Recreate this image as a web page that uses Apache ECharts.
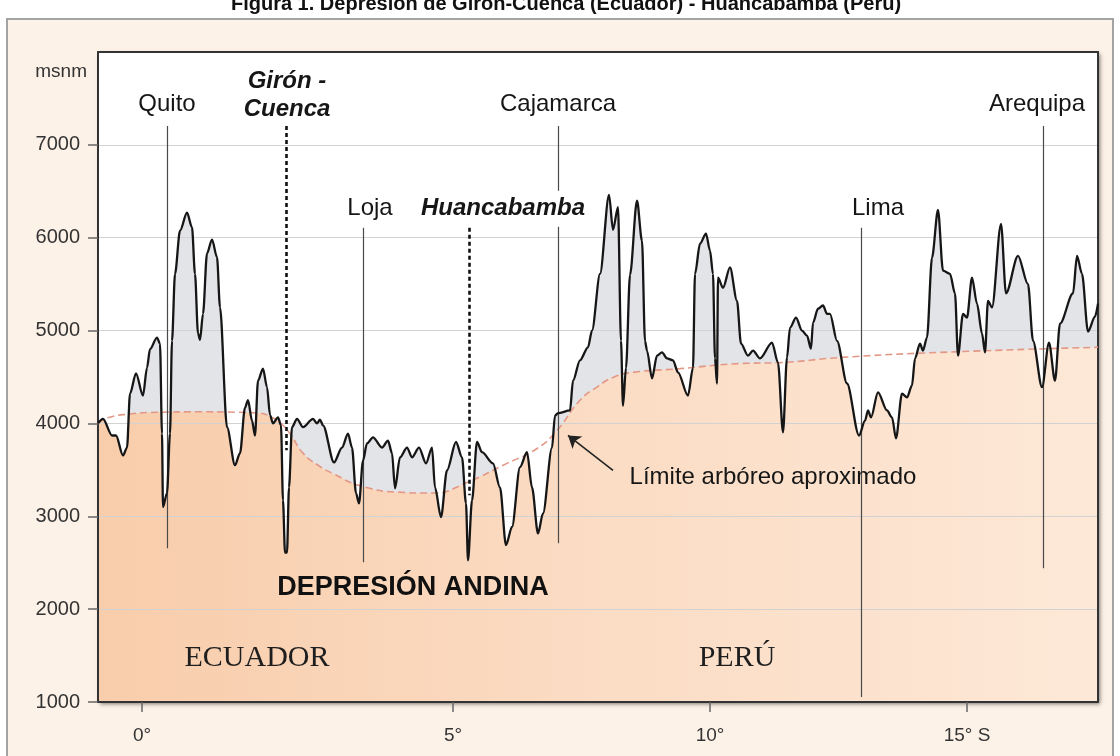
<!DOCTYPE html>
<html>
<head>
<meta charset="utf-8">
<script src="https://cdn.jsdelivr.net/npm/echarts@6/dist/echarts.min.js"></script>
<style>
  html, body { margin: 0; padding: 0; background: #fff; }
  #chart { width: 1120px; height: 756px; }
</style>
</head>
<body>
<div id="chart"></div>
<script>
// distancia a lo largo del perfil (0-1000) / altitud en msnm
const perfil = [
  [0,4000],[5,4050],[14,3870],[18,3870],[25,3655],[29,3740],[32,4320],[38,4540],[45,4300],[49,4600],
  [52,4800],[59,4925],[62,4860],[64,3890],[65,3100],[69,3250],[72,3890],[74,4890],[77,5610],[82,6075],
  [89,6270],[94,6110],[97,5610],[100,4970],[102,4900],[105,5180],[109,5830],[114,5980],[119,5790],[122,5250],
  [129,3960],[137,3550],[142,3680],[147,4170],[150,4250],[154,4030],[157,3870],[160,4460],[165,4590],[169,4390],
  [172,4090],[175,4000],[180,4065],[183,3980],[185,3170],[187,2610],[189,2610],[191,3310],[194,3960],[199,4050],
  [205,3960],[215,4050],[219,4000],[222,4040],[225,3980],[236,3580],[244,3740],[250,3890],[254,3740],[258,3250],
  [261,3140],[265,3600],[269,3785],[275,3850],[284,3740],[290,3815],[294,3680],[297,3300],[302,3635],[309,3740],
  [314,3635],[321,3740],[328,3570],[334,3740],[337,3310],[343,2990],[349,3495],[358,3800],[364,3635],[368,3140],
  [370,2525],[374,3170],[379,3800],[384,3690],[395,3570],[402,3310],[408,2690],[414,2885],[422,3530],[429,3690],
  [434,3310],[440,2815],[445,3030],[454,3740],[457,4085],[460,4110],[472,4140],[475,4460],[482,4680],[490,4820],
  [494,5000],[502,5610],[511,6460],[515,6085],[520,6330],[523,4890],[525,4190],[528,4600],[532,5600],[539,6400],
  [544,5965],[547,4890],[549,4785],[554,4485],[559,4730],[564,4765],[569,4700],[575,4680],[580,4550],[590,4300],
  [595,4600],[597,5610],[602,5935],[608,6045],[612,5860],[615,5610],[617,4700],[619,4430],[620,5570],[625,5460],
  [632,5680],[639,5320],[643,4860],[650,4730],[655,4785],[662,4700],[674,4870],[680,4655],[685,3905],[689,4710],
  [692,5030],[698,5140],[704,5000],[709,4945],[713,4805],[715,5085],[720,5235],[725,5270],[729,5180],[732,5180],
  [739,4890],[749,4430],[761,3870],[767,4030],[770,4140],[773,4065],[780,4335],[789,4140],[794,4065],[798,3840],
  [804,4320],[809,4280],[814,4410],[817,4700],[822,4860],[825,4785],[829,4925],[834,5785],[840,6300],[845,5645],
  [852,5610],[857,5400],[860,4730],[865,5180],[869,5140],[874,5570],[879,5290],[884,4970],[887,4765],[890,5320],
  [894,5250],[903,6150],[908,5400],[920,5805],[930,5500],[935,4890],[944,4390],[951,4870],[957,4460],[962,5075],
  [975,5400],[979,5805],[984,5610],[990,4990],[997,5150],[1000,5290]
];

// límite arbóreo aproximado
const limiteArboreo = [
  [0,4000],[10,4060],[30,4100],[60,4120],[100,4125],[140,4120],[162,4110],[175,4060],[182,4010],[192,3890],
  [205,3680],[220,3550],[235,3460],[262,3330],[300,3260],[335,3250],[370,3370],[409,3570],[439,3730],[459,3925],
  [482,4250],[500,4400],[515,4495],[535,4550],[582,4590],[642,4645],[682,4655],[742,4710],[842,4765],[1000,4820]
];

const latTicks = [44, 355, 612, 869];
const latLabels = ['0°', '5°', '10°', '15° S'];
const altTicks = [1000, 2000, 3000, 4000, 5000, 6000, 7000];

const ciudades = ['Quito', 'Girón -\nCuenca', 'Loja', 'Huancabamba', 'Cajamarca', 'Lima', 'Arequipa'];
const ciudadDist = [69, 188, 265, 371, 460, 763, 945];

const FONT = 'Liberation Sans';
const INK = '#161616';

// trazos verticales de cada ciudad (inicio arriba, fin abajo)
const lineaTop = [7204, 7204, 6108, 6108, 7204, 6108, 7204];
const lineaBottom = [2656, 3710, 2505, 3226, 2710, 1054, 2441];
const punteada = [false, true, false, true, false, false, false];
const labelPos = [[69, 7440], [189, 7537], [272, 6311], [405, 6311], [460, 7440], [780, 6311], [939, 7440]];

const cityLines = ciudades.map((c, i) => [
  { coord: [ciudadDist[i], lineaTop[i]],
    lineStyle: punteada[i]
      ? { color: '#111', width: 2.6, type: [4, 3] }
      : { color: '#4a4a4a', width: 1.2, type: 'solid' } },
  { coord: [ciudadDist[i], lineaBottom[i]] }
]);

const arrow = [
  { coord: [515, 3495], symbol: 'none',
    lineStyle: { color: '#222', width: 1.6, type: 'solid' } },
  { coord: [470, 3871], symbol: 'arrow' }
];

const rotulos = ciudades.map((c, i) => {
  const bold = punteada[i] || c === 'Huancabamba';
  return {
    name: c,
    value: labelPos[i],
    label: {
      color: INK,
      fontSize: 24,
      fontWeight: bold ? 'bold' : 'normal',
      fontStyle: bold ? 'italic' : 'normal',
      lineHeight: 28,
      backgroundColor: c === 'Huancabamba' ? '#fff' : 'transparent',
      padding: c === 'Huancabamba' ? [4, 2, 4, 2] : 0
    }
  };
});
rotulos.push(
  { name: 'DEPRESIÓN ANDINA', value: [315, 2237], label: { color: '#111', fontSize: 27, fontWeight: 'bold' } },
  { name: 'ECUADOR', value: [159, 1474], label: { color: '#1e1e1e', fontSize: 30, fontFamily: 'Liberation Serif' } },
  { name: 'PERÚ', value: [639, 1474], label: { color: '#1e1e1e', fontSize: 30, fontFamily: 'Liberation Serif' } },
  { name: 'Límite arbóreo aproximado', value: [675, 3420], label: { color: INK, fontSize: 24 } }
);

const chart = echarts.init(document.getElementById('chart'));

const option = {
  animation: false,
  backgroundColor: '#fff',
  textStyle: { fontFamily: FONT },
  graphic: [
    { type: 'rect', z: -10, shape: { x: 7, y: 19, width: 1106, height: 760 },
      style: { fill: '#fdf2e8', stroke: '#a3a3a3', lineWidth: 2 } },
    { type: 'rect', z: -5, shape: { x: 98, y: 52, width: 1000, height: 650 },
      style: { fill: '#fff', shadowBlur: 4, shadowOffsetX: 2, shadowOffsetY: 2, shadowColor: 'rgba(0,0,0,0.5)' } },
    { type: 'text', z: 10, x: 566, y: 4,
      style: { text: 'Figura 1. Depresión de Girón-Cuenca (Ecuador) - Huancabamba (Perú)',
        font: 'bold 20px "Liberation Sans"', fill: '#111', align: 'center', verticalAlign: 'middle' } }
  ],
  grid: {
    left: 98, right: 22, top: 52, bottom: 54,
    show: true, backgroundColor: '#e3e4e8', borderWidth: 0
  },
  xAxis: [
    {
      type: 'value', min: 0, max: 1000, position: 'bottom', z: 3,
      axisLine: { show: true, lineStyle: { color: '#333', width: 2 } },
      axisTick: { show: true, customValues: latTicks, length: 10, lineStyle: { color: '#666', width: 1.5 } },
      axisLabel: {
        customValues: latTicks, margin: 24, fontSize: 19, color: '#333',
        formatter: v => latLabels[latTicks.indexOf(v)]
      },
      splitLine: { show: false }
    },
    {
      type: 'value', min: 0, max: 1000, position: 'top', z: 3,
      axisLine: { show: true, onZero: false, lineStyle: { color: '#333', width: 2 } },
      axisTick: { show: false }, axisLabel: { show: false }, splitLine: { show: false }
    }
  ],
  yAxis: [
    {
      type: 'value', min: 1000, max: 8000, interval: 1000, position: 'left', z: 3,
      name: 'msnm', nameLocation: 'end', nameGap: -20,
      nameTextStyle: { fontSize: 19, color: '#333', align: 'right', verticalAlign: 'middle', padding: [0, 11, 0, 0] },
      axisLine: { show: true, lineStyle: { color: '#333', width: 2 } },
      axisTick: { show: true, customValues: altTicks, length: 10, lineStyle: { color: '#666', width: 1.5 } },
      axisLabel: { customValues: altTicks, margin: 18, fontSize: 20, color: '#333', formatter: v => String(v) },
      splitLine: { show: true, lineStyle: { color: '#d2d2d2', width: 1 } }
    },
    {
      type: 'value', min: 1000, max: 8000, position: 'right', z: 3,
      axisLine: { show: true, onZero: false, lineStyle: { color: '#333', width: 2 } },
      axisTick: { show: false }, axisLabel: { show: false }, splitLine: { show: false }
    }
  ],
  series: [
    {
      name: 'bosque', type: 'line', z: 1, data: limiteArboreo, smooth: 0.5,
      symbol: 'none', lineStyle: { width: 0 },
      areaStyle: {
        origin: 'start', opacity: 1,
        color: { type: 'linear', x: 0, y: 0, x2: 1, y2: 0,
          colorStops: [{ offset: 0, color: '#f8cdab' }, { offset: 0.5, color: '#fbdcc4' }, { offset: 1, color: '#fde8d7' }] }
      }
    },
    {
      name: 'cielo', type: 'line', z: 2, data: perfil, smooth: 0.3, smoothMonotone: 'x',
      symbol: 'none', lineStyle: { width: 0 },
      areaStyle: { origin: 'end', color: '#fff', opacity: 1 }
    },
    {
      name: 'limite', type: 'line', z: 4, data: limiteArboreo, smooth: 0.5,
      symbol: 'none', lineStyle: { color: '#e39886', width: 1.6, type: [7, 4] }
    },
    {
      name: 'anotaciones', type: 'line', z: 4, data: [],
      markLine: {
        silent: true, symbol: 'none', symbolSize: 12,
        label: { show: false },
        data: cityLines.concat([arrow])
      }
    },
    {
      name: 'perfil', type: 'line', z: 5, data: perfil, smooth: 0.3, smoothMonotone: 'x',
      symbol: 'none', lineStyle: { color: '#161616', width: 2.3 }
    },
    {
      name: 'rotulos', type: 'scatter', z: 6, symbolSize: 0, data: rotulos,
      itemStyle: { opacity: 1 },
      label: { show: true, position: 'inside', formatter: '{b}', color: INK, fontFamily: FONT, fontSize: 24 }
    }
  ]
};

chart.setOption(option);
</script>
</body>
</html>
